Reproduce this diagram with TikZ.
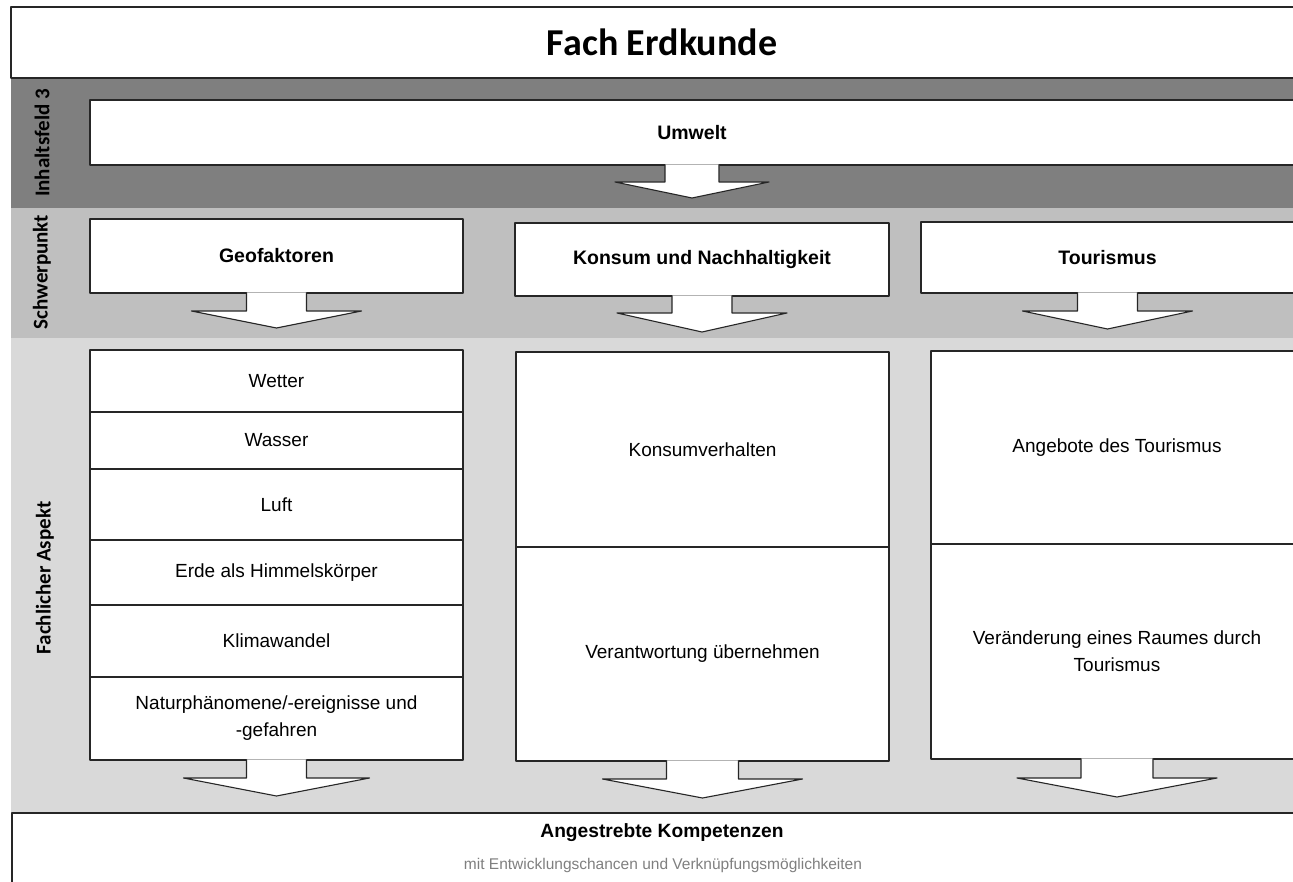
\documentclass[tikz,border=0pt]{standalone}
\usepackage{fontspec}
\setmainfont{Liberation Sans}
\newfontfamily\calfont{Carlito}
\usepackage{tikz}
\usetikzlibrary{calc,fit}
\definecolor{darkband}{HTML}{7F7F7F}
\definecolor{midband}{HTML}{BFBFBF}
\definecolor{lightband}{HTML}{D9D9D9}
\definecolor{boxline}{HTML}{262626}
\definecolor{subgray}{HTML}{7F7F7F}

\newcommand\callarrow[5]{%
	\draw[boxframe,fill=white] ($(#1.south)+(-#2,-0.6)$) -- ++(0,#3+0.6) -- ($(#1.south)+(-#4,#3)$) -- ($(#1.south)+(0,#3+#5)$) -- ($(#1.south)+(#4,#3)$) -- ($(#1.south)+(#2,#3)$) -- ++(0,-#3-0.6);}

\begin{document}
\begin{tikzpicture}[x=1pt,y=-1pt,
	boxframe/.style={draw=boxline,line width=1.1pt,line join=round,outer sep=0pt},
	celltext/.style={align=center,inner sep=0pt,font=\fontsize{19}{27}\selectfont},
	headtext/.style={celltext,font=\fontsize{19.5}{23}\selectfont\bfseries},
	cell/.style={boxframe,fill=white,inner sep=0pt,label={[celltext]center:#1}},
	headcell/.style={boxframe,fill=white,inner sep=0pt,label={[headtext]center:#1}},
	sidelabel/.style={rotate=90,font=\calfont\fontsize{21}{25}\selectfont\bfseries}]
		\useasboundingbox (0,0) rectangle (1293,882);
		\clip (0,0) rectangle (1293,882);
		\fill[darkband] (11,78) rectangle (1310,208);
		\fill[midband] (11,208) rectangle (1310,338);
		\fill[lightband] (11,338) rectangle (1310,813);
		\node[boxframe,fill=white,inner sep=0pt,fit={(11,7) (1313,78)}] (fach) {};
		\node[font=\calfont\fontsize{38}{42}\selectfont\bfseries] (fachtext) at (fach.center) {Fach Erdkunde};
		\draw[boxframe,fill=white] (12,900) |- (1313,813);
		\node (ziel) at (662,833) {\fontsize{19.2}{23}\selectfont\bfseries Angestrebte Kompetenzen};
		\node[text=subgray] (zielsub) at (663,865) {\fontsize{15.5}{19}\selectfont mit Entwicklungschancen und Verknüpfungsmöglichkeiten};
		\node[sidelabel] (feldlabel) at (42,143) {Inhaltsfeld 3};
		\node[sidelabel] (schwerlabel) at (42,272) {Schwerpunkt};
		\node[sidelabel] (aspektlabel) at (45,578) {Fachlicher Aspekt};
		% Inhaltsfeld
		\node[headcell=Umwelt,fit={(90,100) (1294,165)}] (umwelt) {};
		\callarrow{umwelt}{27}{17}{77}{16}
		% Schwerpunkte
		\node[headcell=Geofaktoren,fit={(90,219) (463,293)}] (geo) {};
		\node[headcell=Konsum und Nachhaltigkeit,fit={(515,223) (889,296)}] (konsum) {};
		\node[headcell=Tourismus,fit={(921,222) (1294,293)}] (tourismus) {};
		\callarrow{geo}{30}{18}{85}{17}
		\callarrow{konsum}{30}{17}{85}{19}
		\callarrow{tourismus}{30}{18}{85}{18}
		% fachliche Aspekte
		\node[cell=Wetter,fit={(90,350) (463,412)}] (wetter) {};
		\node[cell=Wasser,fit={(90,412) (463,469)}] (wasser) {};
		\node[cell=Luft,fit={(90,469) (463,540)}] (luft) {};
		\node[cell=Erde als Himmelskörper,fit={(90,540) (463,605)}] (erde) {};
		\node[cell=Klimawandel,fit={(90,605) (463,677)}] (klima) {};
		\node[cell={Naturphänomene/-ereignisse und\\-gefahren},fit={(90,677) (463,760)}] (natur) {};
		\node[cell=Konsumverhalten,fit={(516,352) (889,547)}] (konsumv) {};
		\node[cell=Verantwortung übernehmen,fit={(516,547) (889,761)}] (verantw) {};
		\node[cell=Angebote des Tourismus,fit={(931,351) (1303,544)}] (angebot) {};
		\node[cell={Veränderung eines Raumes durch\\Tourismus},fit={(931,544) (1303,759)}] (raum) {};
		\callarrow{natur}{30}{18}{93}{18}
		\callarrow{verantw}{36}{18}{100}{19}
		\callarrow{raum}{36}{19}{100}{19}
	\end{tikzpicture}
\end{document}
